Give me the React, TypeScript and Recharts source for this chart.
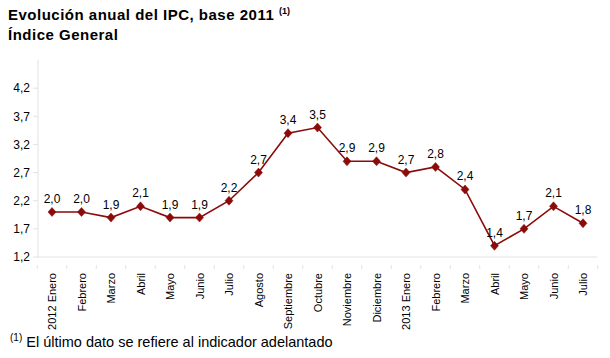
import React from "react"
import { LineChart, Line, XAxis, YAxis, LabelList } from "recharts"

// meses (eje X) y valores del IPC anual
const months = [
  "2012 Enero", "Febrero", "Marzo", "Abril", "Mayo", "Junio", "Julio", "Agosto",
  "Septiembre", "Octubre", "Noviembre", "Diciembre", "2013 Enero", "Febrero",
  "Marzo", "Abril", "Mayo", "Junio", "Julio",
]
const ipc = [2.0, 2.0, 1.9, 2.1, 1.9, 1.9, 2.2, 2.7, 3.4, 3.5, 2.9, 2.9, 2.7, 2.8, 2.4, 1.4, 1.7, 2.1, 1.8]
const yTicks = [1.2, 1.7, 2.2, 2.7, 3.2, 3.7, 4.2]

const data = months.map((m, i) => ({ id: i, mes: m, v: ipc[i] }))

const FONT = '"Liberation Sans", Arial, sans-serif'
const RED = "#8b0a0a"
const AXIS = "#e2e2e6"

const fmt = (n: number) => n.toFixed(1).replace(".", ",")

const Diamond = (props: any) => {
  const { cx, cy } = props
  if (cx == null || cy == null) return null
  return <path d={`M${cx},${cy - 4.5}L${cx + 4},${cy}L${cx},${cy + 4.5}L${cx - 4},${cy}Z`} fill={RED} stroke={RED} strokeWidth={0.5} />
}

const MonthTick = (props: any) => {
  const { x, y, payload, index } = props
  return (
    <g transform={`translate(${x},${y})`}>
      <line x1={-14.75} y1={0} x2={-14.75} y2={4} stroke={AXIS} />
      {index === months.length - 1 && <line x1={14.75} y1={0} x2={14.75} y2={4} stroke={AXIS} />}
      <text transform="rotate(-90)" x={-8} y={4} textAnchor="end" fontSize={11} fill="#000" fontFamily={FONT}>
        {months[payload.value]}
      </text>
    </g>
  )
}

export default function App() {
  return (
    <div style={{ position: "absolute", left: 0, top: 0, width: 610, height: 358, background: "#fff", fontFamily: FONT }}>
      <div style={{ position: "absolute", left: 8, top: 6, fontSize: 15, lineHeight: "18px", letterSpacing: 0.5, fontWeight: "bold", color: "#000", whiteSpace: "nowrap" }}>
        Evolución anual del IPC, base 2011{" "}
        <sup style={{ fontSize: 9, verticalAlign: 0, position: "relative", top: -6, letterSpacing: 0 }}>(1)</sup>
        <br />
        Índice General
      </div>
      <LineChart width={610} height={358} data={data} margin={{ top: 60, right: 13, bottom: 0, left: 0 }}>
        <XAxis
          dataKey="id"
          type="category"
          height={101}
          padding={{ left: 14, right: 14 }}
          axisLine={{ stroke: AXIS }}
          tickLine={false}
          interval={0}
          tick={<MonthTick />}
        />
        <YAxis
          width={38}
          domain={[1.2, 4.7]}
          ticks={yTicks}
          allowDataOverflow
          axisLine={{ stroke: AXIS }}
          tickLine={{ stroke: AXIS }}
          tickSize={5}
          tickMargin={3}
          tickFormatter={fmt}
          tick={{ fontSize: 12, fill: "#000", fontFamily: FONT }}
        />
        <Line
          dataKey="v"
          stroke={RED}
          strokeWidth={1.6}
          dot={<Diamond />}
          activeDot={false}
          isAnimationActive={false}
        >
          <LabelList dataKey="v" position="top" offset={9} formatter={(v: any) => fmt(Number(v))} style={{ fontSize: 12, fill: "#000", fontFamily: FONT }} />
        </Line>
      </LineChart>
      <div style={{ position: "absolute", left: 10, top: 334, fontSize: 14.5, lineHeight: "16px", color: "#000", whiteSpace: "nowrap" }}>
        <sup style={{ fontSize: 10, verticalAlign: 0, position: "relative", top: -6 }}>(1)</sup>{" "}
        El último dato se refiere al indicador adelantado
      </div>
    </div>
  )
}
